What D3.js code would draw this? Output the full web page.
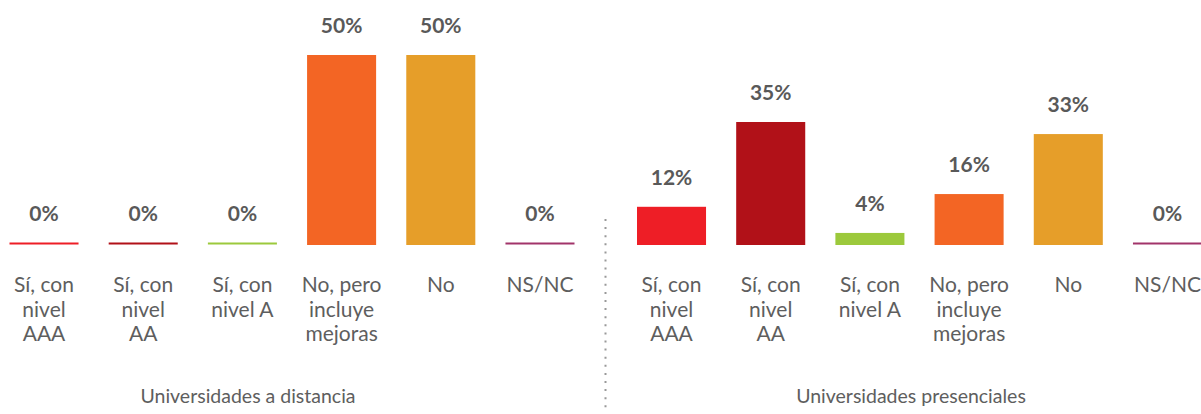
<!DOCTYPE html>
<html>
<head>
<meta charset="utf-8">
<script src="https://cdn.jsdelivr.net/npm/d3@7"></script>
<style>
  body { margin: 0; background: #fff; }
  svg { display: block; font-family: Lato, "Open Sans", sans-serif; }
</style>
</head>
<body>
<div id="chart"></div>
<script>
// Categories (label lines) shared by both panels
const categories = ["AAA", "AA", "A", "Mejoras", "No", "NSNC"];
const categoryLines = [
    ["Sí, con", "nivel", "AAA"],
    ["Sí, con", "nivel", "AA"],
    ["Sí, con", "nivel A"],
    ["No, pero", "incluye", "mejoras"],
    ["No"],
    ["NS/NC"]
];
const categoryColors = ["#EE1E26", "#B11118", "#9CC93C", "#F36524", "#E69E29", "#A2346A"];

// Universidades a distancia
const distanciaValues = [0, 0, 0, 50, 50, 0];
const distanciaLabels = ["0%", "0%", "0%", "50%", "50%", "0%"];

// Universidades presenciales (bar heights)
const presencialValues = [11.4, 36.7, 3.6, 15.2, 33.1, 0];
const presencialLabels = ["12%", "35%", "4%", "16%", "33%", "0%"];

const panelTitles = ["Universidades a distancia", "Universidades presenciales"];

const width = 1201, height = 414;
const baseline = 245;

const svg = d3.select("#chart").append("svg")
    .attr("width", width)
    .attr("height", height);

function drawPanel(values, labels, xRange, yTop, maxVal, title, titleX) {
    const x = d3.scaleBand()
        .domain(categories)
        .range(xRange)
        .paddingInner(0.304)
        .paddingOuter(0);

    const y = d3.scaleLinear()
        .domain([0, maxVal])
        .range([baseline, yTop]);

    const g = svg.append("g");
    const data = categories.map((c, i) => ({cat: c, value: values[i], label: labels[i], lines: categoryLines[i], color: categoryColors[i]}));

    // bars (zero values shown as a thin line)
    g.selectAll("rect")
        .data(data)
        .enter()
        .append("rect")
        .attr("x", d => x(d.cat))
        .attr("width", x.bandwidth())
        .attr("y", d => Math.min(y(d.value), baseline - 2.5))
        .attr("height", d => Math.max(baseline - y(d.value), 2) )
        .attr("fill", d => d.color);

    // value labels
    g.selectAll("text.val")
        .data(data)
        .enter()
        .append("text")
        .attr("class", "val")
        .attr("x", d => x(d.cat) + x.bandwidth() / 2)
        .attr("y", d => Math.min(y(d.value), baseline - 2.5) - 22)
        .attr("text-anchor", "middle")
        .attr("font-size", 21)
        .attr("font-weight", "bold")
        .attr("fill", "#595959")
        .text(d => d.label);

    // category labels
    const cat = g.selectAll("text.cat")
        .data(data)
        .enter()
        .append("text")
        .attr("class", "cat")
        .attr("text-anchor", "middle")
        .attr("font-size", 21)
        .attr("fill", "#5e5e5e");
    cat.selectAll("tspan")
        .data(d => d.lines.map(l => ({l, cx: x(d.cat) + x.bandwidth() / 2})))
        .enter()
        .append("tspan")
        .attr("x", t => t.cx)
        .attr("y", (t, i) => 292 + i * 24.5)
        .text(t => t.l);

    g.append("text")
        .attr("x", titleX)
        .attr("y", 403)
        .attr("text-anchor", "middle")
        .attr("font-size", 19.5)
        .attr("fill", "#5e5e5e")
        .text(title);
}

drawPanel(distanciaValues, distanciaLabels, [9.5, 574.5], 55, 50, panelTitles[0], 248);
drawPanel(presencialValues, presencialLabels, [637, 1202], 122, 36.7, panelTitles[1], 911);

// dotted divider
svg.append("line")
    .attr("x1", 605.5).attr("x2", 605.5)
    .attr("y1", 219).attr("y2", 410)
    .attr("stroke", "#999")
    .attr("stroke-width", 2)
    .attr("stroke-dasharray", "2,6.1");
</script>
</body>
</html>
